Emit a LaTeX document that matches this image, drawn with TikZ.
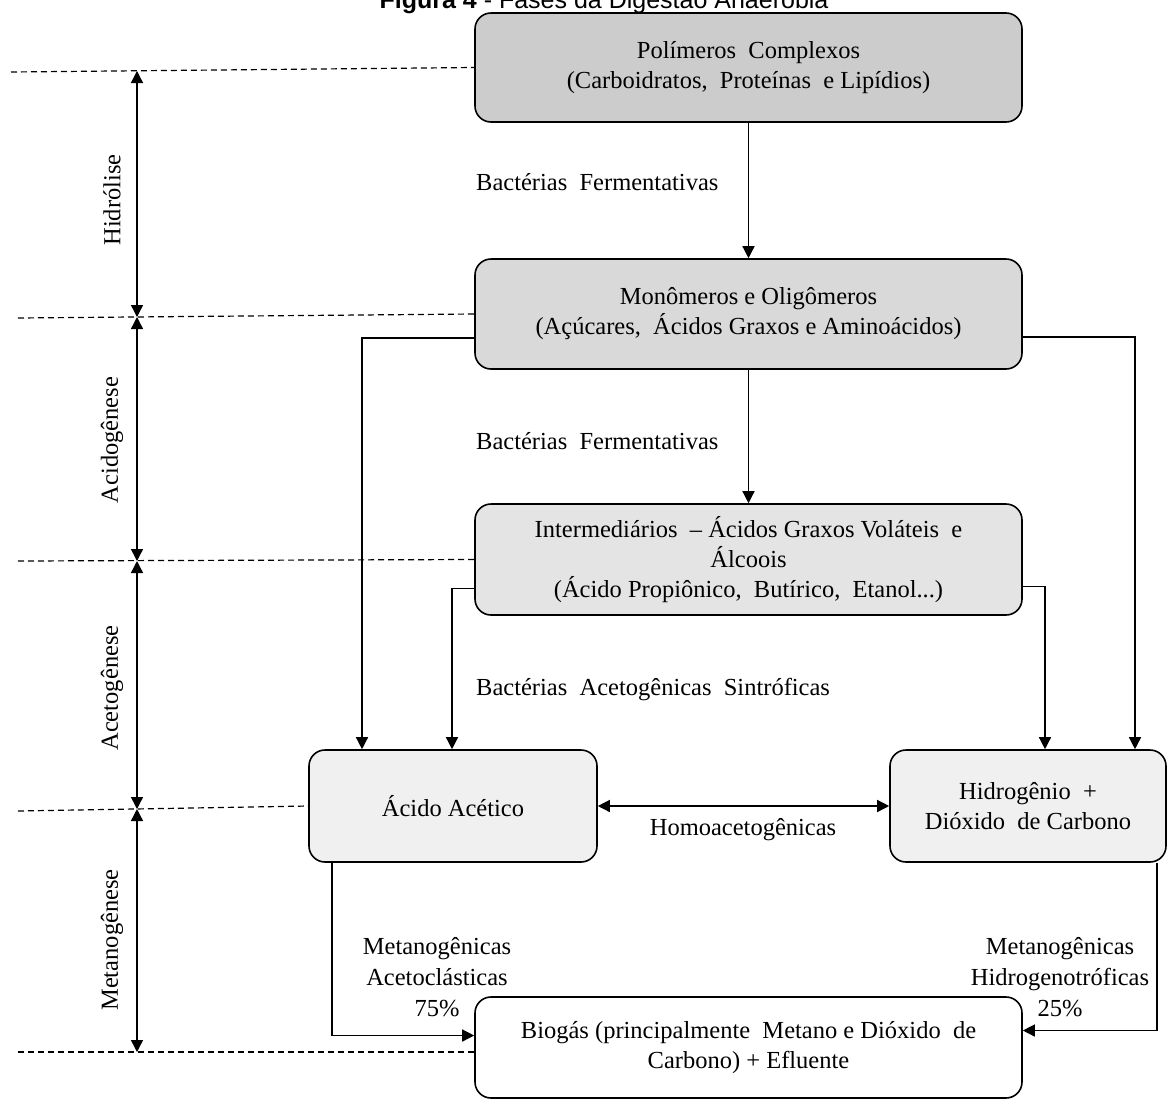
\documentclass[tikz,border=0pt]{standalone}
\usepackage{fontspec}
\setmainfont{Liberation Serif}
\newfontfamily\arialfont{Liberation Sans}
\usetikzlibrary{arrows.meta,calc}
\definecolor{fillA}{HTML}{CCCCCC}
\definecolor{fillB}{HTML}{D9D9D9}
\definecolor{fillC}{HTML}{E4E4E4}
\definecolor{fillD}{HTML}{F0F0F0}
\tikzset{
  stagebox/.style={draw=black, line width=1.6pt, rounded corners=16pt, align=center, inner sep=0pt,
    font=\fontsize{24.5}{30}\selectfont},
  lbl/.style={font=\fontsize{24.5}{31}\selectfont, inner sep=0pt, align=center},
  flow/.style={line width=1.4pt, -{Triangle[length=12pt,width=12pt]}},
  dflow/.style={line width=1.4pt, {Triangle[length=12pt,width=12pt]}-{Triangle[length=12pt,width=12pt]}},
  guide/.style={line width=1.2pt, dash pattern=on 6pt off 4pt},
  phase/.style={font=\fontsize{24.5}{30}\selectfont, rotate=90, inner sep=0pt}
}
\begin{document}
\begin{tikzpicture}[x=1pt,y=-1pt]
\useasboundingbox (0,0) rectangle (1167,1101);
\clip (0,0) rectangle (1167,1101);
\fill[white] (0,0) rectangle (1167,1101);

% title
\node[anchor=base, inner sep=0pt, font=\arialfont\fontsize{25}{30}\selectfont] (title) at (604,8) {\textbf{Figura 4} - Fases da Digestão Anaeróbia};

% boxes
\node[stagebox, fill=fillA, minimum width=547pt, minimum height=109pt] (poli) at (748.5,67.5)
  {Polímeros\ \ Complexos\\(Carboidratos,\ \ Proteínas\ \ e Lipídios)};
\node[stagebox, fill=fillB, minimum width=547pt, minimum height=110pt] (mono) at (748.5,314)
  {Monômeros e Oligômeros\\(Açúcares,\ \ Ácidos Graxos e Aminoácidos)};
\node[stagebox, fill=fillC, minimum width=547pt, minimum height=111pt] (inter) at (748.5,559.5)
  {Intermediários\ \ – Ácidos Graxos Voláteis\ \ e\\Álcoois\\(Ácido Propiônico,\ \ Butírico,\ \ Etanol...)};
\node[stagebox, fill=fillD, minimum width=288pt, minimum height=112pt] (aci) at (453,806)
  {Ácido Acético};
\node[stagebox, fill=fillD, minimum width=276pt, minimum height=112pt] (hid) at (1028,806)
  {Hidrogênio\ \ +\\Dióxido\ \ de Carbono};
\node[stagebox, fill=white, minimum width=547pt, minimum height=101pt] (bio) at (748.5,1047.5)
  {Biogás (principalmente\ \ Metano e Dióxido\ \ de\\Carbono) + Efluente};

% connector labels
\node[lbl, anchor=west] (l1) at (476,182) {Bactérias\ \ Fermentativas};
\node[lbl, anchor=west] (l2) at (476,441) {Bactérias\ \ Fermentativas};
\node[lbl, anchor=west] (l3) at (476,690) {Bactérias\ \ Acetogênicas\ \ Sintróficas};
\node[lbl] (l4) at (743,830) {Homoacetogênicas};
\node[lbl] (l5) at (437,977) {Metanogênicas\\Acetoclásticas\\75\%};
\node[lbl] (l6) at (1060,977) {Metanogênicas\\Hidrogenotróficas\\25\%};

% connectors
\draw[flow] (poli.south) -- (mono.north);
\draw[flow] (mono.south) -- (inter.north);
\draw[flow] ([yshift=-24pt]mono.west) -| ([xshift=-91pt]aci.north);
\draw[flow] ([yshift=-23pt]mono.east) -| ([xshift=107pt]hid.north);
\draw[flow] ([yshift=-29pt]inter.west) -| ([xshift=-1pt]aci.north);
\draw[flow] ([yshift=-27pt]inter.east) -| ([xshift=17pt]hid.north);
\draw[dflow] (aci.east) -- (hid.west);
\draw[flow] ([xshift=-121pt]aci.south) |- ([yshift=12pt]bio.west);
\draw[flow] ([xshift=129pt]hid.south) |- ([yshift=17pt]bio.east);

% phase guides
\coordinate (g1) at (11,72);
\coordinate (g2) at (18,318);
\coordinate (g3) at (18,561);
\coordinate (g4) at (18,811);
\coordinate (g5) at (18,1052);
\draw[guide] (g1) -- (poli.west);
\draw[guide] (g2) -- (mono.west);
\draw[guide] (g3) -- (inter.west);
\draw[guide] (g4) -- (aci.west);
\draw[guide] (g5) -- ([yshift=-4.5pt]bio.west);

\coordinate (a1) at (137,71);
\coordinate (a2) at (137,317);
\coordinate (a3) at (137,561);
\coordinate (a4) at (137,809);
\coordinate (a5) at (137,1052);
\draw[dflow] (a1) -- (a2);
\draw[dflow] (a2) -- (a3);
\draw[dflow] (a3) -- (a4);
\draw[dflow] (a4) -- (a5);

\node[phase] (p1) at (112,200) {Hidrólise};
\node[phase] (p2) at (112,440) {Acidogênese};
\node[phase] (p3) at (112,688) {Acetogênese};
\node[phase] (p4) at (112,940) {Metanogênese};
\end{tikzpicture}
\end{document}
